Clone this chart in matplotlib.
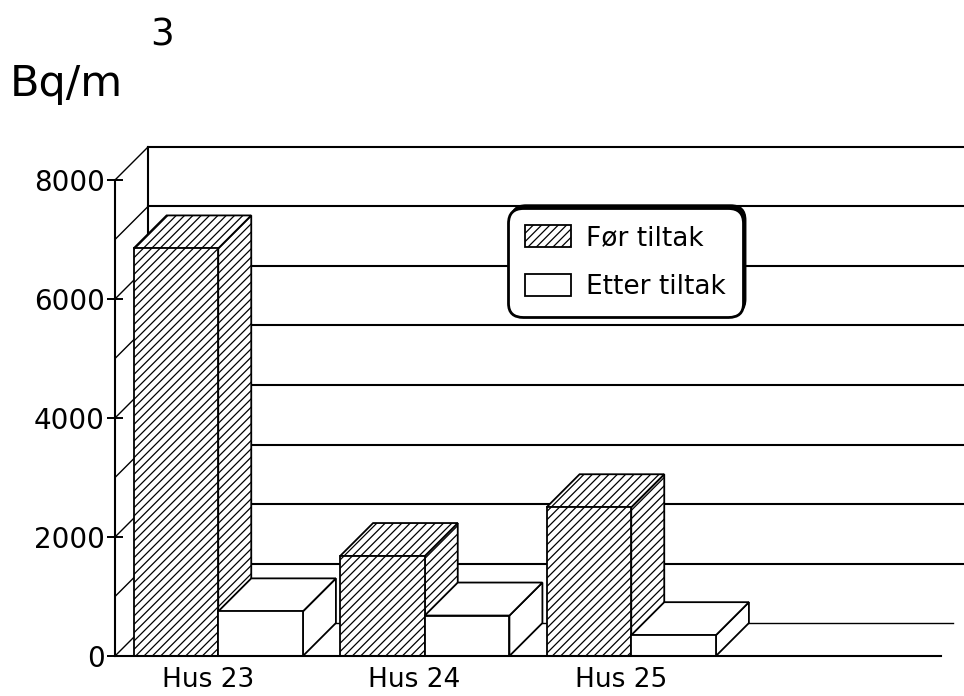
import matplotlib
matplotlib.use('Agg')
import matplotlib.pyplot as plt
from matplotlib.patches import Polygon, Patch, FancyBboxPatch
from matplotlib.transforms import IdentityTransform
import numpy as np

# radon i inneluft, Bq/m3, før og etter tiltak
hus = ['Hus 23', 'Hus 24', 'Hus 25']
for_tiltak = [6850, 1680, 2500]
etter_tiltak = [750, 680, 350]
yticks = [0, 2000, 4000, 6000, 8000]
grid_levels = [1000, 2000, 3000, 4000, 5000, 6000, 7000, 8000]
legend_labels = ['Før tiltak', 'Etter tiltak']

plt.rcParams['font.family'] = ['DejaVu Sans']
plt.rcParams['hatch.linewidth'] = 0.9
plt.rcParams['hatch.color'] = '#333333'

W, H = 964, 696
fig = plt.figure(figsize=(W / 100, H / 100), dpi=100)
ax = fig.add_axes([115 / W, 40 / H, 826 / W, 476 / H])
ax.set_xlim(-0.5, 3.5)
ax.set_ylim(0, 8000)

# dybde for 3D-effekten (33 px opp og til høyre)
ddx = 33 * 4 / 826
ddy = 33 * 8000 / 476
lw = 1.5

# bakvegg med hjelpelinjer og sidevegg
for v in grid_levels:
    ax.plot([-0.5 + ddx, 3.5 + ddx], [v + ddy, v + ddy], color='k', lw=lw,
            zorder=1, clip_on=False)
for v in [0] + grid_levels:
    ax.plot([-0.5, -0.5 + ddx], [v, v + ddy], color='k', lw=1.0,
            zorder=1, clip_on=False)
ax.plot([-0.5 + ddx, 3.4 + ddx], [ddy, ddy], color='k', lw=1.0, zorder=1, clip_on=False)
ax.plot([-0.5 + ddx, -0.5 + ddx], [ddy, 8000 + ddy], color='k', lw=lw,
        zorder=1, clip_on=False)

bw = 0.41


def boks(x0, h, hatch, z):
    x1 = x0 + bw
    kw = dict(facecolor='white', edgecolor='k', lw=1.3, hatch=hatch,
              zorder=z, clip_on=False)
    ax.add_patch(Polygon([(x1, 0), (x1 + ddx, ddy), (x1 + ddx, h + ddy), (x1, h)], **kw))
    ax.add_patch(Polygon([(x0, h), (x1, h), (x1 + ddx, h + ddy), (x0 + ddx, h + ddy)], **kw))
    ax.bar(x0, h, width=bw, align='edge', **kw)


for i in range(len(hus)):
    boks(i - bw, for_tiltak[i], '////', 3 + 2 * i)
    boks(i, etter_tiltak[i], None, 4 + 2 * i)

# akser
for s in ['top', 'right']:
    ax.spines[s].set_visible(False)
for s in ['left', 'bottom']:
    ax.spines[s].set_linewidth(lw)
    ax.spines[s].set_zorder(15)
ax.set_yticks(yticks)
ax.set_yticklabels([str(t) for t in yticks], fontsize=20)
ax.tick_params(axis='y', direction='inout', length=11, width=1.4, pad=2)
ax.set_xticks(np.arange(len(hus)) - 0.05)
ax.set_xticklabels(hus, fontsize=19)
ax.tick_params(axis='x', length=0, pad=8)

handles = [Patch(facecolor='white', edgecolor='k', hatch='////', lw=1.3),
           Patch(facecolor='white', edgecolor='k', lw=1.3)]
leg = ax.legend(handles, legend_labels, loc='upper left',
                bbox_to_anchor=(508 / W, 1 - 208 / H), bbox_transform=fig.transFigure,
                fontsize=19, frameon=True, fancybox=True, framealpha=1, edgecolor='k',
                handlelength=1.75, handleheight=0.92, handletextpad=0.55,
                labelspacing=0.85, borderpad=0.65, borderaxespad=0)
leg.get_frame().set_linewidth(2.0)
leg.get_frame().set_boxstyle('round,pad=0,rounding_size=0.55')
leg.set_zorder(20)

# skygge oppe til høyre for forklaringsboksen
fig.canvas.draw()
bb = leg.get_frame().get_window_extent()
skygge = FancyBboxPatch((bb.x0 + 3, bb.y0 + 3), bb.width, bb.height,
                        boxstyle='round,pad=0,rounding_size=15', facecolor='k',
                        edgecolor='k', transform=IdentityTransform(), zorder=19,
                        clip_on=False)
ax.add_artist(skygge)

fig.text(10 / W, 1 - 96 / H, 'Bq/m', fontsize=31, ha='left', va='baseline')
fig.text(150 / W, 1 - 45 / H, '3', fontsize=27, ha='left', va='baseline')

fig.savefig('out.png', dpi=100)
